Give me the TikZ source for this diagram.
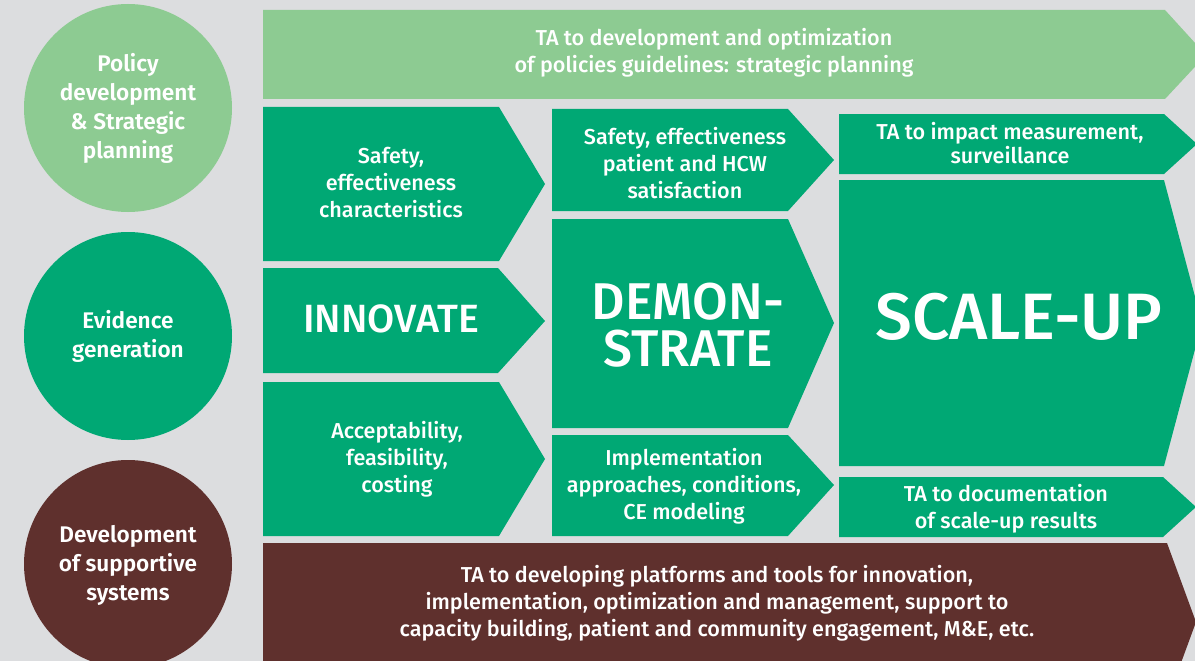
\documentclass[tikz,border=0pt]{standalone}
\usepackage{fontspec}
\setmainfont{Fira Sans}[UprightFont=* Medium, BoldFont=* SemiBold]
\definecolor{bgc}{RGB}{220,221,223}
\definecolor{lgreen}{RGB}{141,203,146}
\definecolor{mgreen}{RGB}{0,168,116}
\definecolor{dbrown}{RGB}{95,48,45}
\begin{document}
\begin{tikzpicture}[x=1pt,y=-1pt,
  txt/.style={text=white, align=center, inner sep=0pt, font=\fontsize{21.6}{27}\selectfont},
  circtxt/.style={text=white, align=center, inner sep=0pt, font=\fontsize{22.6}{29}\selectfont\bfseries},
  big/.style={text=white, align=center, inner sep=0pt}]
\useasboundingbox (0,0) rectangle (1195,661);
\fill[bgc] (0,0) rectangle (1195,661);
\begin{scope}
\clip (0,0) rectangle (1195,661);
% circles
\fill[lgreen] (128,108) circle[radius=104];
\fill[mgreen] (128,336) circle[radius=104];
\fill[dbrown] (128,564) circle[radius=104];
% banners
\fill[lgreen] (263,10) -- (1165,10) -- (1206,55) -- (1165,99) -- (263,99) -- cycle;
\fill[dbrown] (263,543) -- (1167,543) -- (1196,622) -- (1167,701) -- (263,701) -- cycle;
% column 1
\fill[mgreen] (263,107) -- (499,107) -- (545,184) -- (499,261) -- (263,261) -- cycle;
\fill[mgreen] (263,268) -- (498,268) -- (545,321) -- (498,373) -- (263,373) -- cycle;
\fill[mgreen] (263,382) -- (499,382) -- (545,459) -- (499,536) -- (263,536) -- cycle;
% column 2
\fill[mgreen] (552,109) -- (788,109) -- (834,160) -- (788,211) -- (552,211) -- cycle;
\fill[mgreen] (552,219) -- (788,219) -- (834,323) -- (788,428) -- (552,428) -- cycle;
\fill[mgreen] (552,435) -- (788,435) -- (834,485) -- (788,536) -- (552,536) -- cycle;
% column 3
\fill[mgreen] (839,114) -- (1164,114) -- (1197,144) -- (1164,174) -- (839,174) -- cycle;
\fill[mgreen] (839,180) -- (1164,180) -- (1202,323) -- (1164,466) -- (839,466) -- cycle;
\fill[mgreen] (839,477) -- (1163,477) -- (1196,507) -- (1163,537) -- (839,537) -- cycle;
\end{scope}
% circle texts
\node[circtxt] (pol) at (128,108) {Policy\\development\\\& Strategic\\planning};
\node[circtxt] (evi) at (128,336) {Evidence\\generation};
\node[circtxt] (dev) at (128,565) {Development\\of supportive\\systems};
% texts
\node[txt] (ttop) at (714,53) {TA to development and optimization\\of policies guidelines: strategic planning};
\node[txt] (s1) at (391,183) {Safety,\\effectiveness\\characteristics};
\node[big, font=\fontsize{39.4}{44}\selectfont] (inn) at (391,319) {INNOVATE};
\node[txt] (acc) at (397,459) {Acceptability,\\feasibility,\\costing};
\node[txt] (s2) at (685,163) {Safety, effectiveness\\patient and HCW\\satisfaction};
\node[big, font=\fontsize{51.7}{47}\selectfont] (dem) at (688,325) {DEMON-\\STRATE};
\node[txt] (imp) at (684,486) {Implementation\\approaches, conditions,\\CE modeling};
\node[txt, font=\fontsize{21.6}{24}\selectfont] (tai) at (1010,143) {TA to impact measurement,\\surveillance};
\node[big, font=\fontsize{65.6}{70}\selectfont] (sca) at (1019,317) {SCALE-UP};
\node[txt] (tad) at (1006,509) {TA to documentation\\of scale-up results};
\node[txt] (tbot) at (717,603) {TA to developing platforms and tools for innovation,\\implementation, optimization and management, support to\\capacity building, patient and community engagement, M\&E, etc.};
\end{tikzpicture}
\end{document}
